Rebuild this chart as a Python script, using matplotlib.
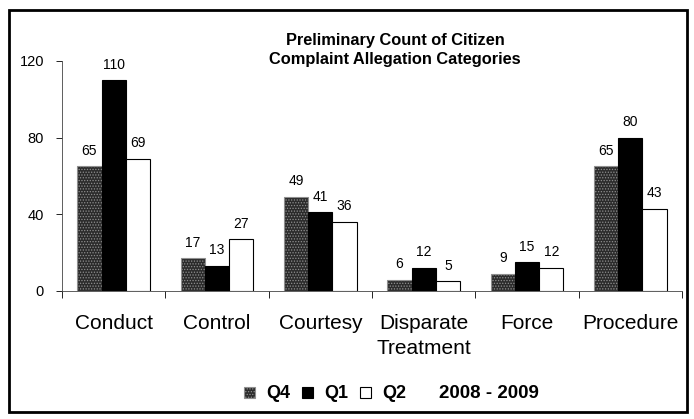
import matplotlib.pyplot as plt
import numpy as np
from matplotlib.patches import Rectangle

categories = ["Conduct", "Control", "Courtesy", "Disparate\nTreatment", "Force", "Procedure"]
q4 = [65, 17, 49, 6, 9, 65]
q1 = [110, 13, 41, 12, 15, 80]
q2 = [69, 27, 36, 5, 12, 43]
series = [("Q4", q4), ("Q1", q1), ("Q2", q2)]
yticks = [0, 40, 80, 120]

plt.rcParams['font.family'] = ['Liberation Sans', 'DejaVu Sans']
plt.rcParams['hatch.linewidth'] = 0.6

fig = plt.figure(figsize=(6.94, 4.19), dpi=100)
ax = fig.add_axes([62 / 694, 1 - 291 / 419, 620 / 694, 230 / 419])

x = np.arange(len(categories))
w = 0.235
styles = [dict(facecolor="#2b2b2b", hatch="......", edgecolor="#8f8f8f"),
          dict(facecolor="black", edgecolor="black"),
          dict(facecolor="white", edgecolor="black")]

for i, ((name, vals), st) in enumerate(zip(series, styles)):
    pos = x + (i - 1) * w
    ax.bar(pos, vals, w, label=name, linewidth=0.8, **st)
    for p, v in zip(pos, vals):
        ax.text(p, v + 4.5, str(v), ha="center", va="bottom", fontsize=10)

ax.set_xlim(-0.5, len(categories) - 0.5)
ax.set_ylim(0, 120)
ax.set_yticks(yticks)
ax.tick_params(axis="y", labelsize=10.5, length=4, width=0.6, pad=9)
ax.set_xticks(np.arange(len(categories) + 1) - 0.5)
ax.set_xticklabels([])
ax.tick_params(axis="x", length=5, width=0.6, direction="out")
for c, lbl in zip(x, categories):
    ax.text(c, -12, lbl, ha="center", va="top", fontsize=15, linespacing=1.4)
for s in ["top", "right"]:
    ax.spines[s].set_visible(False)
for s in ["left", "bottom"]:
    ax.spines[s].set_linewidth(0.6)
    ax.spines[s].set_color("#444444")

fig.text(395 / 694, 1 - 50 / 419, "Preliminary Count of Citizen\nComplaint Allegation Categories",
         ha="center", va="center", fontsize=11.8, fontweight="bold", linespacing=1.35)

# legend
ly = 1 - 393 / 419
items = [(244, "Q4", styles[0]), (302, "Q1", styles[1]), (360, "Q2", styles[2])]
for px, name, st in items:
    fig.patches.append(Rectangle((px / 694, ly - 5 / 419), 11 / 694, 11 / 419,
                                 transform=fig.transFigure, linewidth=0.8, **st))
    fig.text((px + 22) / 694, ly, name, ha="left", va="center", fontsize=13, fontweight="bold")
fig.text(439 / 694, ly, "2008 - 2009", ha="left", va="center", fontsize=13.5, fontweight="bold")

fig.patches.append(Rectangle((9 / 694, 7 / 419), 678 / 694, 402 / 419, transform=fig.transFigure,
                             fill=False, linewidth=2, edgecolor="black"))

fig.savefig("out.png", dpi=100)
